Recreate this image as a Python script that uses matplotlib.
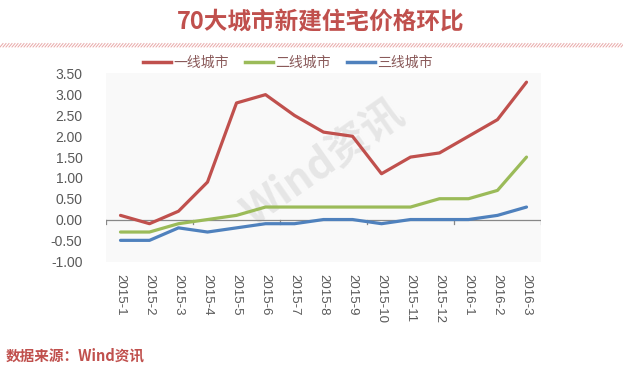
import matplotlib
matplotlib.use("Agg")
import matplotlib.pyplot as plt
from matplotlib.lines import Line2D
import numpy as np

plt.rcParams['font.family'] = ['Noto Sans CJK SC', 'DejaVu Sans']

months = ["2015-1", "2015-2", "2015-3", "2015-4", "2015-5", "2015-6", "2015-7",
          "2015-8", "2015-9", "2015-10", "2015-11", "2015-12", "2016-1", "2016-2", "2016-3"]
tier1 = [0.1, -0.1, 0.2, 0.9, 2.8, 3.0, 2.5, 2.1, 2.0, 1.1, 1.5, 1.6, 2.0, 2.4, 3.3]
tier2 = [-0.3, -0.3, -0.1, 0.0, 0.1, 0.3, 0.3, 0.3, 0.3, 0.3, 0.3, 0.5, 0.5, 0.7, 1.5]
tier3 = [-0.5, -0.5, -0.2, -0.3, -0.2, -0.1, -0.1, 0.0, 0.0, -0.1, 0.0, 0.0, 0.0, 0.1, 0.3]
series_names = ["一线城市", "二线城市", "三线城市"]
yticks = [-1.0, -0.5, 0.0, 0.5, 1.0, 1.5, 2.0, 2.5, 3.0, 3.5]

W, H = 623, 371
fig = plt.figure(figsize=(W / 100, H / 100), dpi=100)
fig.patch.set_facecolor('white')

ax = fig.add_axes([106 / W, 1 - 262 / H, (541 - 106) / W, (262 - 73) / H])
ax.set_facecolor('#f9f9f9')
x = np.arange(len(months))
colors = ['#c0504d', '#9bbb59', '#4f81bd']
for ys, c, n in zip([tier1, tier2, tier3], colors, series_names):
    ax.plot(x, ys, color=c, lw=2.3, label=n, solid_capstyle='round', zorder=3)

ax.set_xlim(-0.5, len(months) - 0.5)
ax.set_ylim(-1.02, 3.52)
for s in ax.spines.values():
    s.set_visible(False)
ax.axhline(0, color='#888888', lw=0.9, zorder=2)
for b in np.arange(-0.5, len(months), 3):
    ax.plot([b, b], [0, -0.1], color='#888888', lw=0.9, zorder=2)

ax.set_yticks(yticks)
ax.set_yticklabels([f"{v:.2f}" for v in yticks], color='#595959', fontsize=10,
                   family=['Liberation Sans', 'DejaVu Sans'])
ax.tick_params(axis='y', length=0, pad=17)
ax.set_xticks(x)
ax.set_xticklabels(months, rotation=270, color='#595959', fontsize=9.5,
                   family=['Liberation Sans', 'DejaVu Sans'])
ax.tick_params(axis='x', length=0, pad=9)

# watermark
ax.text(0.5, 0.52, "Wind资讯", transform=ax.transAxes, rotation=35, fontsize=30,
        color='#e6e6e6', ha='center', va='center', fontweight='bold', zorder=1,
        style='italic')

# title
fig.text(321 / W, 1 - 22 / H, "70大城市新建住宅价格环比", ha='center', va='center',
         fontsize=17, fontweight='bold', color='#c0504d')

# hatched separator
segs_x = np.arange(0, W + 4, 3)
for sx in segs_x:
    fig.add_artist(Line2D([sx / W, (sx + 3) / W], [1 - 47 / H, 1 - 43.5 / H],
                          color='#e8a8a8', lw=0.7, transform=fig.transFigure))

# legend
handles = [Line2D([0], [0], color=c, lw=2.5) for c in colors]
leg = fig.legend(handles, series_names, loc='center', bbox_to_anchor=(288 / W, 1 - 63 / H),
                 ncol=3, frameon=False, fontsize=10, handlelength=2.0, handletextpad=0.15,
                 columnspacing=1.2)
for t in leg.get_texts():
    t.set_color('#8a5a5a')

# source
fig.text(6 / W, 1 - 355 / H, "数据来源：Wind资讯", ha='left', va='center',
         fontsize=10.5, fontweight='bold', color='#c0504d', style='italic')

fig.savefig("out.png", dpi=100, facecolor='white')
